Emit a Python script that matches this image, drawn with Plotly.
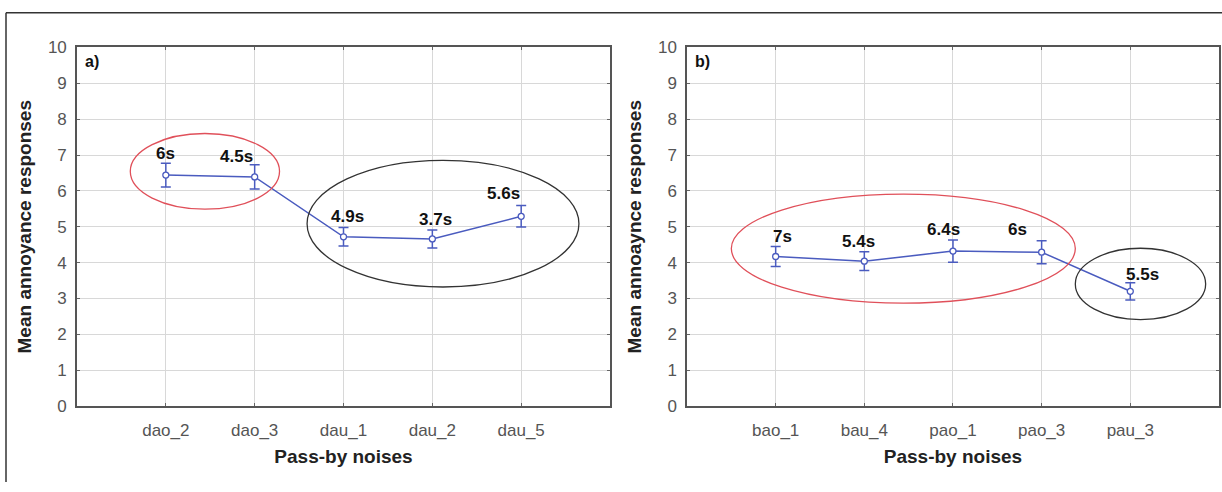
import plotly.graph_objects as go

# ---------------- data ----------------
cats_a = ["dao_2", "dao_3", "dau_1", "dau_2", "dau_5"]
mean_a = [6.44, 6.39, 4.72, 4.66, 5.29]
err_a = [0.33, 0.34, 0.26, 0.25, 0.30]
lab_a = ["6s", "4.5s", "4.9s", "3.7s", "5.6s"]
labx_a = [0.0, 0.8, 2.05, 3.04, 3.8]
laby_a = [7.05, 6.97, 5.29, 5.21, 5.94]

cats_b = ["bao_1", "bau_4", "pao_1", "pao_3", "pau_3"]
mean_b = [4.17, 4.04, 4.32, 4.29, 3.2]
err_b = [0.28, 0.26, 0.31, 0.32, 0.24]
lab_b = ["7s", "5.4s", "6.4s", "6s", "5.5s"]
labx_b = [0.08, 0.93, 1.89, 2.73, 4.14]
laby_b = [4.72, 4.58, 4.92, 4.93, 3.67]

yticks = list(range(0, 11))

# ellipses (x0, x1, y0, y1) in data coords
ell_a_red = (-0.40, 1.28, 5.49, 7.6)
ell_a_black = (1.59, 4.65, 3.32, 6.85)
ell_b_red = (-0.50, 3.38, 2.87, 5.91)
ell_b_black = (3.38, 4.85, 2.41, 4.4)

LINE = "#4a5bbf"
FONT = "Liberation Sans, Arial, sans-serif"

fig = go.Figure()


def add_panel(cats, mean, err, xa, ya):
    xs = list(range(len(cats)))
    fig.add_trace(go.Scatter(
        x=xs, y=mean, mode="lines+markers", xaxis=xa, yaxis=ya,
        line=dict(color=LINE, width=1.5),
        marker=dict(symbol="circle", size=6, color="white",
                    line=dict(color=LINE, width=1.3)),
        error_y=dict(type="data", array=err, visible=True, color=LINE,
                     thickness=1.5, width=5),
        showlegend=False, hoverinfo="skip"))


add_panel(cats_a, mean_a, err_a, "x", "y")
add_panel(cats_b, mean_b, err_b, "x2", "y2")

axis_common = dict(
    showline=True, linecolor="#555", linewidth=1.5, mirror="ticks",
    showgrid=True, gridcolor="#d8d8d8", gridwidth=1,
    ticks="inside", ticklen=3, tickcolor="#666",
    tickfont=dict(family=FONT, size=17, color="#555"),
    zeroline=False,
)
xt = dict(size=19, color="#222")

yd = [0.1606, 0.9187]
fig.update_layout(
    width=1222, height=492,
    margin=dict(l=0, r=0, t=0, b=0),
    paper_bgcolor="white", plot_bgcolor="white",
    font=dict(family=FONT),
    xaxis=dict(domain=[0.0630, 0.4992], range=[-1, 5], tickmode="array",
               tickvals=list(range(len(cats_a))), ticktext=cats_a,
               ticklabelstandoff=8,
               title=dict(text="<b>Pass-by noises</b>", standoff=11, font=xt),
               **axis_common),
    yaxis=dict(domain=yd, range=[0, 10], tickvals=yticks, ticklabelstandoff=5,
               title=dict(text="<b>Mean annoyance responses</b>", standoff=11,
                          font=xt),
               **axis_common),
    xaxis2=dict(domain=[0.5622, 0.9975], range=[-1, 5], tickmode="array",
                tickvals=list(range(len(cats_b))), ticktext=cats_b,
                anchor="y2", ticklabelstandoff=8,
                title=dict(text="<b>Pass-by noises</b>", standoff=11, font=xt),
                **axis_common),
    yaxis2=dict(domain=yd, range=[0, 10], tickvals=yticks, anchor="x2",
                ticklabelstandoff=5,
                title=dict(text="<b>Mean annoaynce responses</b>", standoff=11,
                           font=xt),
                **axis_common),
)

shapes = []
for (x0, x1, y0, y1), col, xr, yr in [
        (ell_a_red, "#e0505a", "x", "y"),
        (ell_a_black, "#333333", "x", "y"),
        (ell_b_red, "#e0505a", "x2", "y2"),
        (ell_b_black, "#333333", "x2", "y2")]:
    shapes.append(dict(type="circle", xref=xr, yref=yr, x0=x0, x1=x1,
                       y0=y0, y1=y1, line=dict(color=col, width=1.3)))
# outer frame (left and top edges only, as in the cropped reference)
fx, fy = 6 / 1222, 1 - 4 / 492
shapes.append(dict(type="line", xref="paper", yref="paper",
                   x0=fx, x1=fx, y0=0, y1=fy, line=dict(color="#333", width=1.5)))
shapes.append(dict(type="line", xref="paper", yref="paper",
                   x0=fx, x1=1, y0=fy, y1=fy, line=dict(color="#333", width=1.5)))
fig.update_layout(shapes=shapes)

ann = []
for labs, lx, ly, xr, yr in [(lab_a, labx_a, laby_a, "x", "y"),
                             (lab_b, labx_b, laby_b, "x2", "y2")]:
    for t, x, y in zip(labs, lx, ly):
        ann.append(dict(text="<b>%s</b>" % t, x=x, y=y, xref=xr, yref=yr,
                        showarrow=False, font=dict(size=17, color="#111")))
for t, xr, yr in [("a)", "x domain", "y domain"), ("b)", "x2 domain", "y2 domain")]:
    ann.append(dict(text="<b>%s</b>" % t, x=0.012, y=0.99, xref=xr, yref=yr,
                    xanchor="left", yanchor="top", showarrow=False,
                    font=dict(size=16, color="#111")))
fig.update_layout(annotations=ann)

fig.write_html("out.html", config={"displayModeBar": False},
               post_script="document.body.style.margin='0';"
                           "document.body.style.overflow='hidden';")
